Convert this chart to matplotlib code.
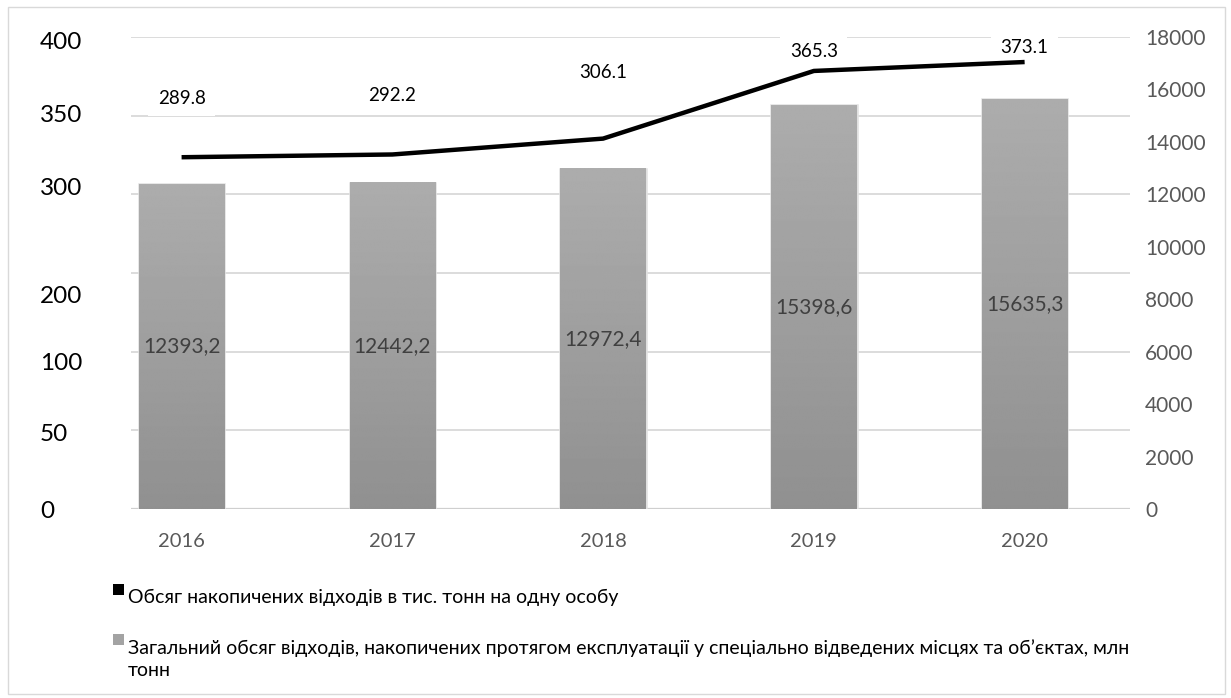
import matplotlib.pyplot as plt
import numpy as np
from matplotlib.patches import Rectangle

plt.rcParams['font.family'] = ['Lato', 'DejaVu Sans']

years = ['2016', '2017', '2018', '2019', '2020']
waste_total = [12393.2, 12442.2, 12972.4, 15398.6, 15635.3]   # млн тонн
waste_per_person = [289.8, 292.2, 306.1, 365.3, 373.1]       # тис. тонн на одну особу

left_labels = ['0', '50', '100', '200', '300', '350', '400']
right_ticks = list(range(0, 18001, 2000))

legend_line = 'Обсяг накопичених відходів в тис. тонн на одну особу'
legend_bar = ('Загальний обсяг відходів, накопичених протягом експлуатації у '
              'спеціально відведених місцях та об’єктах, млн\nтонн')

W, H = 1231, 698
fig = plt.figure(figsize=(W / 100, H / 100), dpi=100)

# plot area in pixels (left, top, right, bottom)
px_l, px_t, px_r, px_b = 131, 37, 1130, 509
ax = fig.add_axes([px_l / W, 1 - px_b / H, (px_r - px_l) / W, (px_b - px_t) / H])
ax_r = ax.twinx()
ax_line = ax.twinx()

x = np.arange(len(years))

# left axis: only grid + hand-placed labels
ax.set_ylim(0, 420)
ax.set_yticks(np.arange(0, 421, 70), minor=True)
ax.set_yticks([0, 68, 131, 191, 287, 352, 417])
ax.set_yticklabels(left_labels)
ax.grid(which='minor', axis='y', color='#d9d9d9', lw=1.3)
ax.tick_params(axis='y', which='both', length=0, labelsize=17.5, pad=65.5, labelcolor='black')
for t in ax.get_yticklabels():
    t.set_ha('left')
ax.set_xlim(-0.24, 4.5)
ax.set_xticks(x)
ax.set_xticklabels(years)
ax.tick_params(axis='x', length=0, labelsize=14.5, labelcolor='#595959', pad=17)
for s in ax.spines.values():
    s.set_visible(False)
ax.axhline(0, color='#cfcfcf', lw=1.6, zorder=0.5)

# bars on the right axis, filled with a vertical grey gradient
ax_r.set_ylim(0, 18000)
bars = ax_r.bar(x, waste_total, width=0.405, color='none', edgecolor='#e0e0e0', lw=1.8, zorder=1)
grad = np.linspace(0, 1, 256).reshape(-1, 1)
for b in bars:
    x0, w, h = b.get_x(), b.get_width(), b.get_height()
    ax_r.imshow(grad, extent=[x0, x0 + w, 0, h], origin='lower', aspect='auto',
                cmap='gray', vmin=-5.15, vmax=3.95, zorder=1.5, interpolation='bilinear')
ax_r.set_xlim(-0.24, 4.5)
ax_r.set_ylim(0, 18000)
ax_r.bar_label(bars, labels=[f'{v:.1f}'.replace('.', ',') for v in waste_total],
               label_type='center', color='#404040', fontsize=15, zorder=3)
ax_r.set_yticks(right_ticks)
ax_r.tick_params(axis='y', length=0, labelsize=15, labelcolor='#595959', pad=11)
for s in ax_r.spines.values():
    s.set_visible(False)

# per-person line on its own hidden scale
ax_line.set_ylim(-18, 395)
ax_line.plot(x, waste_per_person, color='black', lw=3.2, solid_capstyle='butt',
             solid_joinstyle='round', zorder=4)
label_dy = [59, 59, 66, 19, 15]
for xi, v, dy in zip(x, waste_per_person, label_dy):
    ax_line.annotate(f'{v:.1f}', (xi, v), xytext=(0, dy), textcoords='offset pixels',
                     ha='center', va='center', fontsize=13.5, color='black',
                     bbox=dict(boxstyle='square,pad=0.5', fc='white', ec='none'))
ax_line.set_yticks([])
ax_line.set_xlim(-0.24, 4.5)
for s in ax_line.spines.values():
    s.set_visible(False)

# legend drawn by hand so the marker sits on the first text line
def legend_item(y_px, color, text):
    fig.patches.append(Rectangle((113 / W, 1 - (y_px + 6) / H), 11 / W, 11 / H,
                                 transform=fig.transFigure, fc=color, ec='none'))
    fig.text(128 / W, 1 - y_px / H, text, ha='left', va='top', fontsize=14,
             color='black', linespacing=1.35)

legend_item(589, 'black', legend_line)
legend_item(639, '#a3a3a3', legend_bar)

# outer frame
fig.patches.append(Rectangle((8 / W, 1 - 694 / H), 1217 / W, 687 / H,
                             transform=fig.transFigure, fc='none', ec='#d9d9d9', lw=1))

fig.savefig('out.png', dpi=100)
